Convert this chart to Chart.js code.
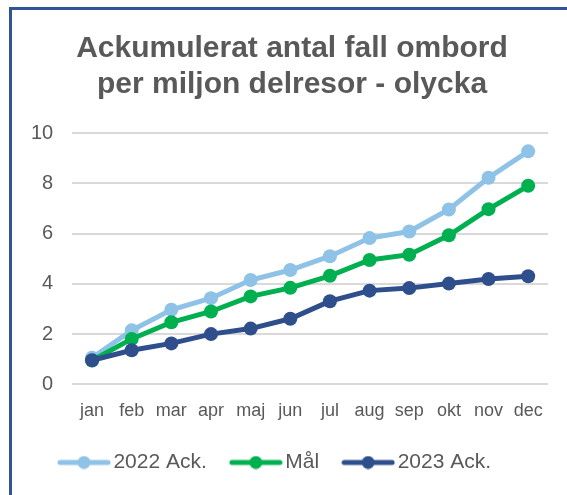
<html>
<head>
<meta charset="utf-8" />
<title>Ackumulerat antal fall ombord</title>
<script src="https://cdn.jsdelivr.net/npm/chart.js@4"></script>
<style>
  html, body { margin: 0; padding: 0; background: #fff; overflow: hidden; }
  #ram {
    position: absolute; left: 9px; top: 7px; width: 700px; height: 700px;
    border: 3px solid #2F5597; box-sizing: border-box;
  }
  #yta { position: absolute; left: 12px; top: 10px; width: 555px; height: 485px; }
</style>
<script>
  // data
  const manader = ['jan','feb','mar','apr','maj','jun','jul','aug','sep','okt','nov','dec'];
  const ack2022 = [1.06, 2.15, 2.97, 3.43, 4.15, 4.55, 5.1, 5.82, 6.08, 6.96, 8.22, 9.27];
  const mal     = [0.95, 1.81, 2.47, 2.9, 3.5, 3.84, 4.32, 4.95, 5.16, 5.93, 6.97, 7.9];
  const ack2023 = [0.96, 1.36, 1.63, 2.0, 2.22, 2.61, 3.31, 3.73, 3.83, 4.01, 4.19, 4.3];
  const yTicks  = [0, 2, 4, 6, 8, 10];

  const farger = { ljusbla: '#8EC2E6', gron: '#00B050', morkbla: '#2E4E8C' };

  // liten bild: linje med prick, som i Excel-legenden
  function legendBild(farg) {
    const c = document.createElement('canvas');
    c.width = 54; c.height = 14;
    const g = c.getContext('2d');
    g.strokeStyle = farg; g.lineWidth = 5; g.lineCap = 'round';
    g.beginPath(); g.moveTo(3, 7); g.lineTo(51, 7); g.stroke();
    g.fillStyle = farg;
    g.beginPath(); g.arc(27, 7, 6.5, 0, Math.PI * 2); g.fill();
    return c;
  }
</script>
</head>
<body>
<div id="ram"></div>
<div id="yta"><canvas id="diagram"></canvas></div>
<script>
  function serie(namn, varden, farg, ordning) {
    return {
      label: namn,
      data: varden,
      borderColor: farg,
      backgroundColor: farg,
      pointBackgroundColor: farg,
      pointBorderColor: farg,
      borderWidth: 5,
      pointRadius: 7,
      pointBorderWidth: 0,
      tension: 0,
      order: ordning,
      bild: legendBild(farg)
    };
  }

  // titel och legend sitter lite förskjutna i originalet
  const flytta = {
    id: 'flytta',
    afterLayout(chart) {
      chart.legend.left -= 2;
      chart.legend.right -= 2;
      chart.titleBlock.left += 12;
      chart.titleBlock.right += 12;
    }
  };

  new Chart(document.getElementById('diagram'), {
    type: 'line',
    data: {
      labels: manader,
      datasets: [
        serie('2022 Ack.', ack2022, farger.ljusbla, 2),
        serie('Mål', mal, farger.gron, 1),
        serie('2023 Ack.', ack2023, farger.morkbla, 0)
      ]
    },
    options: {
      responsive: true,
      maintainAspectRatio: false,
      animation: false,
      layout: { padding: { left: 0, right: 19, bottom: 12, top: 0 } },
      plugins: {
        title: {
          display: true,
          text: ['Ackumulerat antal fall ombord', 'per miljon delresor - olycka'],
          color: '#595959',
          font: { family: "'Liberation Sans Narrow', 'Liberation Sans', sans-serif", size: 30, weight: 'bold', lineHeight: 1.2 },
          padding: { top: 21, bottom: 30 }
        },
        legend: {
          position: 'bottom',
          labels: {
            color: '#595959',
            font: { family: "'Liberation Sans', sans-serif", size: 21 },
            usePointStyle: true,
            pointStyleWidth: 38,
            padding: 30,
            generateLabels(chart) {
              return chart.data.datasets.map((ds, i) => ({
                text: ds.label,
                pointStyle: ds.bild,
                fillStyle: ds.borderColor,
                strokeStyle: ds.borderColor,
                fontColor: '#595959',
                lineWidth: 0,
                datasetIndex: i
              }));
            }
          }
        },
        tooltip: { enabled: false }
      },
      scales: {
        x: {
          offset: true,
          grid: { display: false, drawTicks: true, tickLength: 16 },
          border: { display: false },
          ticks: {
            color: '#595959',
            font: { family: "'Liberation Sans', sans-serif", size: 18 },
            padding: 0,
            maxRotation: 0,
            autoSkip: false
          }
        },
        y: {
          min: 0,
          max: 10,
          afterBuildTicks(axis) { axis.ticks = yTicks.map(v => ({ value: v })); },
          grid: { color: '#D9D9D9', lineWidth: 2, drawTicks: false },
          border: { display: false },
          ticks: {
            color: '#595959',
            font: { family: "'Liberation Sans', sans-serif", size: 20 },
            padding: 19
          }
        }
      }
    },
    plugins: [flytta]
  });
</script>
</body>
</html>
